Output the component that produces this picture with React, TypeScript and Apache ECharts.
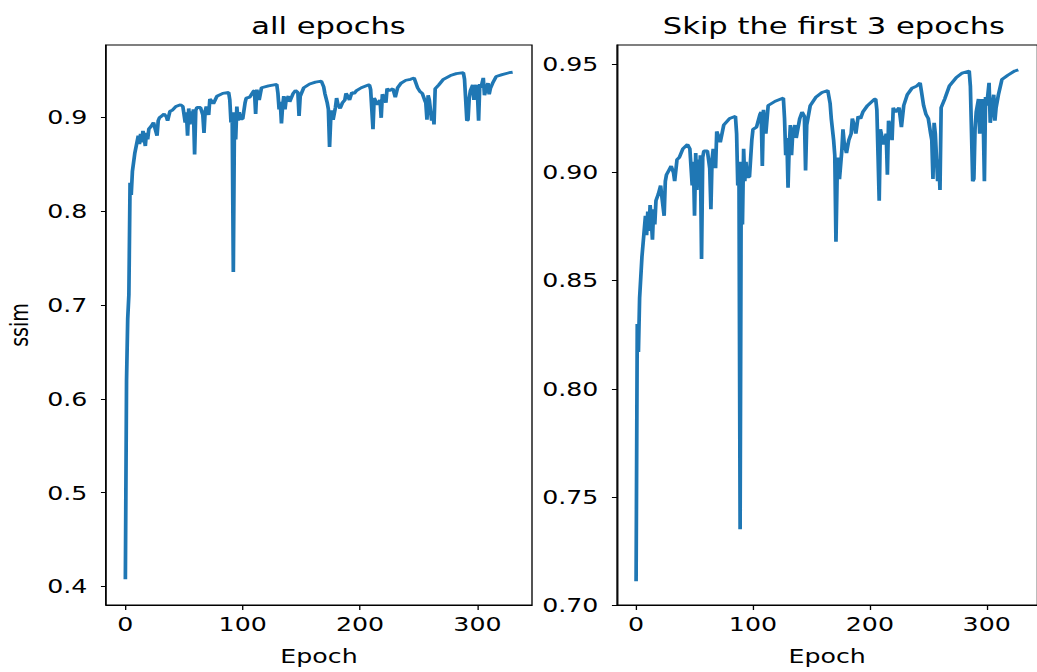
import React, { useEffect, useRef } from "react";
import * as echarts from "echarts";

// Epoch index (all epochs) and measured SSIM value
const epochs = [
  0, 1, 2, 3, 4, 5, 6, 8, 11, 12, 13, 14, 15, 16, 17, 18, 19, 20, 22, 24, 25, 27, 28, 29, 31, 33, 35, 36, 38, 40,
  43, 47, 49, 51, 52, 53, 54, 55, 56, 57, 58, 59, 60, 61, 64, 66, 67, 68, 69, 71, 72, 74, 75, 78, 83, 88, 89, 90,
  91, 92, 93, 94, 95, 96, 97, 98, 100, 102, 103, 106, 109, 110, 111, 112, 114, 116, 122, 129, 130, 131, 132, 133,
  134, 135, 136, 137, 139, 140, 143, 145, 147, 148, 149, 152, 157, 162, 167, 169, 170, 172, 173, 174, 175, 176,
  177, 179, 180, 181, 183, 185, 187, 188, 190, 191, 193, 195, 197, 201, 207, 208, 209, 210, 211, 212, 214, 215,
  217, 218, 219, 221, 222, 223, 225, 228, 230, 232, 235, 239, 243, 246, 247, 249, 251, 253, 255, 256, 257, 258,
  259, 261, 262, 263, 264, 267, 271, 277, 282, 288, 289, 291, 292, 293, 294, 296, 297, 298, 299, 300, 301, 302,
  303, 305, 306, 308, 309, 310, 311, 313, 316, 321, 327, 330,
];
const ssim = [
  0.408, 0.62, 0.685, 0.711, 0.83, 0.817, 0.842, 0.861, 0.88, 0.871, 0.882, 0.873, 0.885, 0.878, 0.869, 0.883,
  0.876, 0.887, 0.89, 0.894, 0.889, 0.88, 0.896, 0.899, 0.901, 0.903, 0.9, 0.896, 0.906, 0.907,
  0.911, 0.913, 0.911, 0.894, 0.905, 0.88, 0.909, 0.892, 0.906, 0.895, 0.908, 0.86, 0.907, 0.91, 0.91, 0.902,
  0.883, 0.906, 0.911, 0.902, 0.919, 0.916, 0.914, 0.922, 0.925, 0.926, 0.918, 0.894,
  0.905, 0.735, 0.905, 0.876, 0.911, 0.896, 0.905, 0.898, 0.898, 0.915, 0.92, 0.921, 0.927, 0.928, 0.903, 0.929,
  0.918, 0.931, 0.933, 0.9345, 0.925, 0.908, 0.916, 0.893,
  0.912, 0.922, 0.908, 0.918, 0.922, 0.916, 0.925, 0.928, 0.926, 0.901, 0.922, 0.931, 0.935, 0.937, 0.938, 0.932,
  0.925, 0.915, 0.908, 0.868, 0.898, 0.907,
  0.897, 0.91, 0.92, 0.914, 0.909, 0.915, 0.918, 0.925, 0.921, 0.918, 0.926, 0.925, 0.928, 0.931, 0.934, 0.934,
  0.929, 0.908, 0.887, 0.92, 0.915, 0.913,
  0.918, 0.899, 0.924, 0.92, 0.915, 0.93, 0.928, 0.93, 0.921, 0.931, 0.936, 0.939, 0.94, 0.9415, 0.938, 0.931,
  0.927, 0.925, 0.918, 0.915, 0.897, 0.923,
  0.918, 0.896, 0.906, 0.892, 0.93, 0.934, 0.94, 0.944, 0.946, 0.947, 0.94, 0.896, 0.897, 0.92, 0.928, 0.934,
  0.918, 0.93, 0.934, 0.925, 0.896, 0.935,
  0.931, 0.9415, 0.923, 0.932, 0.936, 0.924, 0.93, 0.936, 0.943, 0.945, 0.947, 0.9475,
];
const SKIP = 3;
const xTicks = [0, 100, 200, 300];
const leftYTicks = [0.4, 0.5, 0.6, 0.7, 0.8, 0.9];
const rightYTicks = [0.7, 0.75, 0.8, 0.85, 0.9, 0.95];
const titles = ["all epochs", "Skip the first 3 epochs"];

const SX = 1.33;
const FONT = "DejaVu Sans";
const BLUE = "#1f77b4";

export default function App() {
  const ref = useRef<HTMLDivElement>(null);
  useEffect(() => {
    if (!ref.current) return;
    const chart = echarts.init(ref.current, undefined, { renderer: "svg" });
    const allData = epochs.map((e, i) => [e, ssim[i]]);
    const skipData = epochs
      .map((e, i) => [e - SKIP, ssim[i]])
      .filter((d) => d[0] >= 0);

    const xAxisCommon = (gridIndex: number, max: number, min: number) => ({
      type: "value",
      gridIndex,
      min,
      max,
      name: "Epoch",
      nameLocation: "middle",
      nameGap: 42,
      nameTextStyle: { fontFamily: FONT, fontSize: 19, color: "#000" },
      splitLine: { show: false },
      axisLine: { show: true, onZero: false, lineStyle: { color: "#000", width: 1 } },
      axisTick: { show: true, inside: false, length: 5, lineStyle: { color: "#000" }, customValues: xTicks },
      axisLabel: { fontFamily: FONT, fontSize: 19, color: "#000", margin: 10, customValues: xTicks },
    });
    const yAxisCommon = (gridIndex: number, min: number, max: number, ticks: number[], dec: number) => ({
      type: "value",
      gridIndex,
      min,
      max,
      splitLine: { show: false },
      axisLine: { show: true, onZero: false, lineStyle: { color: "#000", width: 1 } },
      axisTick: { show: true, inside: false, length: 3.8, lineStyle: { color: "#000" }, customValues: ticks },
      axisLabel: {
        fontFamily: FONT,
        fontSize: 19,
        color: "#000",
        margin: 14,
        customValues: ticks,
        formatter: (v: number) => v.toFixed(dec),
      },
    });

    chart.setOption({
      animation: false,
      backgroundColor: "#fff",
      title: [
        {
          text: titles[0],
          left: 242,
          top: 9,
          textAlign: "center",
          textStyle: { fontFamily: FONT, fontSize: 23, fontWeight: "normal", color: "#000" },
        },
        {
          text: titles[1],
          left: 622,
          top: 9,
          textAlign: "center",
          textStyle: { fontFamily: FONT, fontSize: 23, fontWeight: "normal", color: "#000" },
        },
      ],
      grid: [
        { left: 79.7, top: 45, width: 320.3, height: 560, show: true, borderColor: "#000", borderWidth: 1, backgroundColor: "transparent" },
        { left: 463.9, top: 45, width: 321.8, height: 560, show: true, borderColor: "#000", borderWidth: 1, backgroundColor: "transparent" },
      ],
      xAxis: [xAxisCommon(0, 346.5, -16.5), xAxisCommon(1, 343.35, -16.35)],
      yAxis: [
        {
          ...yAxisCommon(0, 0.3805, 0.9765, leftYTicks, 1),
          name: "ssim",
          nameLocation: "middle",
          nameGap: 56,
          nameRotate: 90,
          nameTextStyle: { fontFamily: FONT, fontSize: 19, color: "#000" },
        },
        yAxisCommon(1, 0.7, 0.959, rightYTicks, 2),
      ],
      series: [
        {
          type: "line",
          xAxisIndex: 0,
          yAxisIndex: 0,
          data: allData,
          showSymbol: false,
          symbol: "none",
          lineStyle: { color: BLUE, width: 2.8 },
        },
        {
          type: "line",
          xAxisIndex: 1,
          yAxisIndex: 1,
          data: skipData,
          showSymbol: false,
          symbol: "none",
          lineStyle: { color: BLUE, width: 2.8 },
        },
      ],
    });
    return () => chart.dispose();
  }, []);

  return (
    <div
      ref={ref}
      style={{
        position: "fixed",
        left: 0,
        top: 0,
        width: Math.round(1037 / SX),
        height: 672,
        transform: `scaleX(${SX})`,
        transformOrigin: "0 0",
        background: "#fff",
      }}
    />
  );
}
